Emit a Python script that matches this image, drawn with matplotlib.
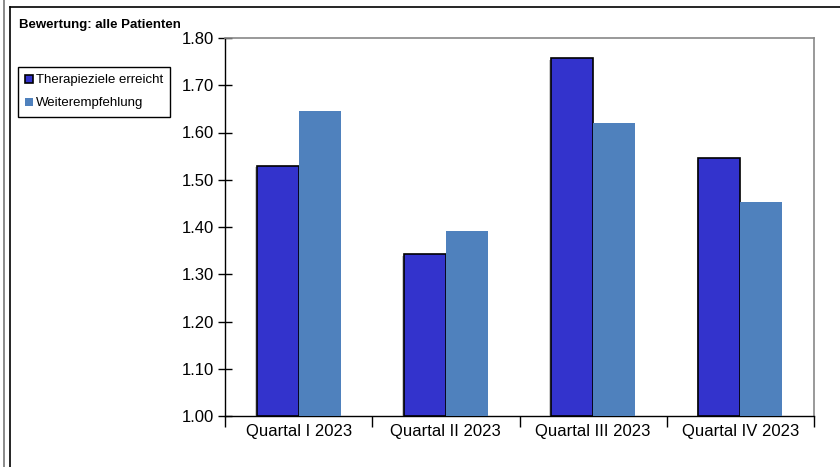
import numpy as np
import matplotlib.pyplot as plt
from matplotlib import patheffects as pe
from matplotlib.patches import Patch

plt.rcParams['font.family'] = ['Liberation Sans', 'DejaVu Sans']

categories = ['Quartal I 2023', 'Quartal II 2023', 'Quartal III 2023', 'Quartal IV 2023']
therapieziele = [1.53, 1.343, 1.758, 1.546]
weiterempfehlung = [1.646, 1.392, 1.621, 1.453]
yticks = [1.00, 1.10, 1.20, 1.30, 1.40, 1.50, 1.60, 1.70, 1.80]

fig = plt.figure(figsize=(8.4, 4.67), dpi=100)
ax = fig.add_axes([225/840, 1-416/467, (814-225)/840, (416-38)/467])

x = np.arange(len(categories))
w = 0.285
shadow = [pe.SimplePatchShadow(offset=(-1.2, -1.2), shadow_rgbFace='gray', alpha=0.4), pe.Normal()]
b1 = ax.bar(x - w/2, np.array(therapieziele) - 1, w, bottom=1, color='#3333CC',
            edgecolor='black', linewidth=1.2, zorder=3)
b2 = ax.bar(x + w/2, np.array(weiterempfehlung) - 1, w, bottom=1, color='#4F81BD',
            edgecolor='none', zorder=3)
for b in b1:
    b.set_path_effects(shadow)

ax.set_xlim(-0.5, len(categories) - 0.5)
ax.set_ylim(1.0, 1.8)
ax.set_yticks(yticks)
ax.set_yticklabels([f'{v:.2f}' for v in yticks], fontsize=12)
ax.set_xticks(x)
ax.set_xticklabels(categories, fontsize=12)
ax.tick_params(axis='x', length=0, pad=6)
ax.set_xticks(np.arange(-0.5, len(categories)), minor=True)
ax.tick_params(axis='x', which='minor', length=8, direction='out', width=1)
ax.tick_params(axis='y', direction='inout', length=10, width=1, pad=3)

for s in ['top', 'right']:
    ax.spines[s].set_color('#888888')
    ax.spines[s].set_linewidth(1.2)
for s in ['left', 'bottom']:
    ax.spines[s].set_color('black')
    ax.spines[s].set_linewidth(1.0)

handles = [Patch(facecolor='#3333CC', edgecolor='black', linewidth=1.2, label='Therapieziele erreicht'),
           Patch(facecolor='#4F81BD', edgecolor='none', label='Weiterempfehlung')]
leg = fig.legend(handles=handles, loc='upper left', bbox_to_anchor=(18/840, 1-67/467),
                 borderaxespad=0, fontsize=9.5, handlelength=0.55, handleheight=0.55,
                 handletextpad=0.25, fancybox=False, edgecolor='black', framealpha=1,
                 borderpad=0.55, labelspacing=0.85)
leg.get_frame().set_linewidth(1.0)

fig.text(19/840, 1-28/467, 'Bewertung: alle Patienten', fontsize=9.5, fontweight='bold',
         va='baseline', ha='left')

# outer frame lines
fig.add_artist(plt.Line2D([10/840, 1], [1-7/467, 1-7/467], color='black', lw=1.2))
fig.add_artist(plt.Line2D([10/840, 10/840], [0, 1-7/467], color='black', lw=1.2))
fig.add_artist(plt.Line2D([4/840, 4/840], [0, 1], color='#777777', lw=1.2))

fig.savefig('out.png', dpi=100)
